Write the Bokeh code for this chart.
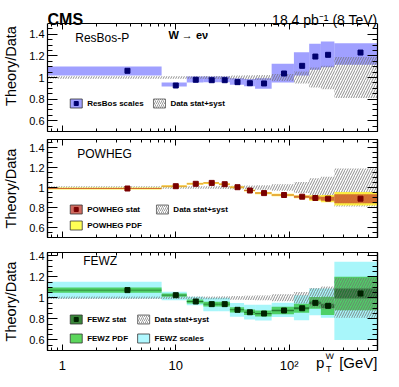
import numpy as np
from bokeh.plotting import figure
from bokeh.layouts import column
from bokeh.models import (Range1d, LinearAxis, LogAxis, FixedTicker, SingleIntervalTicker,
                          CustomJSTickFormatter)
from bokeh.core.properties import value
from bokeh.embed import file_html
from bokeh.resources import INLINE

# ---------------- data ----------------
bin_edges = [0, 7.5, 12.5, 17.5, 24, 30, 40, 50, 70, 110, 150, 190, 250, 600]
data_unc = [0.012, 0.012, 0.012, 0.013, 0.014, 0.018, 0.02, 0.022, 0.033, 0.055, 0.092, 0.108, 0.19]

resbos = [1.062, 0.926, 0.979, 0.975, 0.975, 0.957, 0.947, 0.945, 1.037, 1.108, 1.194, 1.21, 1.231]
resbos_lo = [1.018, 0.917, 0.954, 0.955, 0.955, 0.932, 0.92, 0.895, 0.954, 1.019, 1.071, 1.095, 1.118]
resbos_hi = [1.102, 0.954, 1.009, 1.01, 1.01, 0.994, 0.985, 0.994, 1.127, 1.234, 1.312, 1.333, 1.318]

powheg = [0.99, 1.013, 1.037, 1.046, 1.033, 1.003, 0.97, 0.944, 0.925, 0.908, 0.895, 0.888, 0.888]
powheg_stat = [0.004, 0.004, 0.004, 0.004, 0.004, 0.004, 0.005, 0.005, 0.006, 0.01, 0.015, 0.02, 0.045]
powheg_pdf = [0.01, 0.01, 0.01, 0.01, 0.01, 0.01, 0.01, 0.011, 0.012, 0.015, 0.027, 0.036, 0.067]

fewz = [1.073, 1.025, 0.965, 0.94, 0.94, 0.886, 0.863, 0.851, 0.88, 0.901, 0.952, 0.924, 1.041]
fewz_stat = [0.004, 0.004, 0.004, 0.004, 0.004, 0.005, 0.005, 0.006, 0.007, 0.01, 0.012, 0.02, 0.048]
fewz_pdf = [0.025, 0.015, 0.018, 0.022, 0.022, 0.025, 0.027, 0.028, 0.035, 0.043, 0.055, 0.087, 0.16]
fewz_scale_lo = [0.994, 0.978, 0.93, 0.873, 0.873, 0.82, 0.795, 0.785, 0.819, 0.787, 0.835, 0.81, 0.60]
fewz_scale_hi = [1.152, 1.057, 1.01, 1.0, 1.0, 0.95, 0.935, 0.935, 0.952, 1.025, 1.089, 1.089, 1.343]

x_major_ticks = [1, 10, 100]
x_tick_labels = ["1", "10", "10\u00b2"]
x_minor_ticks = [0.8, 0.9, 2, 3, 4, 5, 6, 7, 8, 9, 20, 30, 40, 50, 60, 70, 80, 90, 200, 300, 400, 500, 600]

# ---------------- layout ----------------
FONT = "Liberation Sans"
X_LO, X_HI = 0.74, 600.0
ROOT_TOP = -1          # where the layout's first row lands in the photographed page
BL, BR = 44, 8
FRAME_W = 333
W = BL + FRAME_W + BR
FRAME_LEFT_PX = 50     # frame's left edge in page pixels
LOGLO, LOGHI = np.log10(X_LO), np.log10(X_HI)

lefts = [max(e, X_LO) for e in bin_edges[:-1]]
rights = bin_edges[1:]
centers = [(a + b) / 2 for a, b in zip(bin_edges[:-1], bin_edges[1:])]
data_lo = [1 - u for u in data_unc]
data_hi = [1 + u for u in data_unc]


def xd(px):
    return 10 ** (LOGLO + (px - FRAME_LEFT_PX) / FRAME_W * (LOGHI - LOGLO))


def yd(py, frame_top, frame_h, ylo, yhi):
    return yhi - (py - frame_top) / frame_h * (yhi - ylo)


def hide_labels(ax):
    ax.major_label_text_font_size = "1px"
    ax.major_label_text_alpha = 0
    ax.major_label_standoff = 0


def text_strip(height):
    """A bare figure (no axes) used for text lying outside the panels' frames."""
    p = figure(x_axis_type="log", x_range=Range1d(X_LO, X_HI), y_range=Range1d(0, height),
               width=W, height=height, min_border=0, min_border_left=BL, min_border_right=BR,
               min_border_top=0, min_border_bottom=0,
               x_axis_location=None, y_axis_location=None,
               output_backend="svg", toolbar_location=None,
               background_fill_color="white", border_fill_color="white")
    p.grid.visible = False
    p.outline_line_color = None
    return p


def strip_text(p, top_px, height, px, py, text, size, style="normal", align="left",
               baseline="alphabetic"):
    y = height - (py - top_px)
    p.text(x=[xd(px)], y=[y], text=[text], text_font=value(FONT), text_font_size=size,
           text_font_style=style, text_align=align, text_baseline=baseline, text_color="black")


def make_panel(ylo, yhi, height, b_top, b_bot, y_view_hi=None):
    """y_view_hi > yhi extends the frame upwards (room for the header texts);
    the box and ticks are then bounded to [ylo, yhi] by the axes."""
    extended = y_view_hi is not None
    p = figure(x_axis_type="log", x_range=Range1d(X_LO, X_HI),
               y_range=Range1d(ylo, y_view_hi if extended else yhi),
               width=W, height=height,
               min_border_left=BL, min_border_right=BR, min_border_top=b_top, min_border_bottom=b_bot,
               output_backend="svg", toolbar_location=None,
               background_fill_color="white", border_fill_color="white")
    p.grid.visible = False
    if extended:
        p.outline_line_color = None
    else:
        p.outline_line_color = "black"
        p.outline_line_width = 1.2

    xt = FixedTicker(ticks=x_major_ticks, minor_ticks=x_minor_ticks)
    top_ax = LogAxis(fixed_location=yhi) if extended else LogAxis()
    p.add_layout(top_ax, "above")
    for ax in [p.below[0], top_ax]:
        ax.ticker = xt
        ax.major_tick_in = 6
        ax.major_tick_out = 0
        ax.minor_tick_in = 3
        ax.minor_tick_out = 0
        ax.axis_line_color = "black"
        ax.axis_line_width = 1.2
        ax.major_tick_line_color = "black"
        ax.minor_tick_line_color = "black"
        hide_labels(ax)

    yt = SingleIntervalTicker(interval=0.2, num_minor_ticks=4)
    right_ax = LinearAxis()
    p.add_layout(right_ax, "right")
    for ax in [p.left[0], right_ax]:
        ax.ticker = yt
        ax.major_tick_in = 10
        ax.major_tick_out = 0
        ax.minor_tick_in = 5
        ax.minor_tick_out = 0
        ax.axis_line_color = "black"
        ax.axis_line_width = 1.2
        ax.major_tick_line_color = "black"
        ax.minor_tick_line_color = "black"
        if extended:
            ax.bounds = (ylo, yhi)
    hide_labels(right_ax)
    l = p.left[0]
    l.formatter = CustomJSTickFormatter(code="return String(Math.round(tick*10)/10);")
    l.major_label_text_font_size = "11px"
    l.major_label_text_font = FONT
    l.major_label_text_color = "black"
    l.major_label_standoff = 3
    l.axis_label = "Theory/Data"
    l.axis_label_text_font = FONT
    l.axis_label_text_font_size = "14.5px"
    l.axis_label_text_font_style = "normal"
    l.axis_label_text_color = "black"
    l.axis_label_standoff = 7
    return p


def data_band(p):
    p.quad(left=lefts, right=rights, bottom=data_lo, top=data_hi, fill_alpha=0,
           hatch_pattern="/", hatch_color="#707070", hatch_scale=5, hatch_weight=0.8,
           line_color=None)


def legend_item(p, px, py, geo, label, fill=None, alpha=1.0, hatch=False, marker=None):
    y = yd(py, *geo)
    x = xd(px + 6)
    if hatch:
        p.rect(x=[x], y=[y], width=12, height=9, width_units="screen", height_units="screen",
               fill_alpha=0, hatch_pattern="/", hatch_color="#707070", hatch_scale=4,
               hatch_weight=0.7, line_color="#555555", line_width=0.8)
    else:
        p.rect(x=[x], y=[y], width=12, height=9, width_units="screen", height_units="screen",
               fill_color=fill, fill_alpha=alpha, line_color="#333333", line_width=0.8)
    if marker:
        p.scatter(x=[x], y=[y], marker="square", size=4, color=marker)
    p.text(x=[xd(px + 17)], y=[y], text=[label], text_font=value(FONT),
           text_font_size="8px", text_font_style="bold", text_baseline="middle",
           text_color="black")


def frame_text(p, px, py, geo, text, size, style="normal", align="left", baseline="middle"):
    p.text(x=[xd(px)], y=[yd(py, *geo)], text=[text], text_font=value(FONT), text_font_size=size,
           text_font_style=style, text_align=align, text_baseline=baseline, text_color="black")


# ---------------- panel 1: ResBos-P (frame extended upwards to hold the header) ----------------
Y1 = (0.5, 1.5)
G1 = (22, 108, Y1[0], Y1[1])
Y1_VIEW_HI = yd(ROOT_TOP, *G1)
p1 = make_panel(Y1[0], Y1[1], (130 - ROOT_TOP) + 4, 0, 4, y_view_hi=Y1_VIEW_HI)
p1.quad(left=lefts, right=rights, bottom=resbos_lo, top=resbos_hi, fill_color="#7777ff",
        fill_alpha=0.7, line_color=None)
data_band(p1)
p1.scatter(centers, resbos, marker="square", size=5, color="#00006e")
frame_text(p1, 50, 18, G1, "CMS", "16px", style="bold", baseline="alphabetic")
frame_text(p1, 383, 18, G1, "18.4 pb\u207b\u00b9 (8 TeV)", "14px", align="right",
           baseline="alphabetic")
frame_text(p1, 78, 36, G1, "ResBos-P", "12px")
frame_text(p1, 172, 33, G1, "W \u2192 e\u03bd", "11px", style="bold")
legend_item(p1, 73, 102, G1, "ResBos scales", fill="#7777ff", alpha=0.7, marker="#00006e")
legend_item(p1, 157, 102, G1, "Data stat+syst", hatch=True)

# ---------------- panel 2: POWHEG ----------------
Y2 = (0.5, 1.48)
G2 = (138, 98, Y2[0], Y2[1])
p2 = make_panel(Y2[0], Y2[1], 4 + 98 + 4, 4, 4)
data_band(p2)
p2.quad(left=lefts, right=rights, bottom=[v - e for v, e in zip(powheg, powheg_pdf)],
        top=[v + e for v, e in zip(powheg, powheg_pdf)], fill_color="#ffee33", fill_alpha=0.9,
        line_color=None)
p2.quad(left=lefts, right=rights, bottom=[v - e for v, e in zip(powheg, powheg_stat)],
        top=[v + e for v, e in zip(powheg, powheg_stat)], fill_color="#c0392b", fill_alpha=0.7,
        line_color=None)
p2.scatter(centers, powheg, marker="square", size=5, color="#7a0000")
frame_text(p2, 80, 152.7, G2, "POWHEG", "12px")
legend_item(p2, 73, 208, G2, "POWHEG stat", fill="#c0392b", alpha=0.75, marker="#7a0000")
legend_item(p2, 160, 208, G2, "Data stat+syst", hatch=True)
legend_item(p2, 73, 224, G2, "POWHEG PDF", fill="#ffff55", alpha=1.0)

# ---------------- panel 3: FEWZ ----------------
Y3 = (0.5, 1.43)
G3 = (251, 98, Y3[0], Y3[1])
p3 = make_panel(Y3[0], Y3[1], 11 + 98 + 3, 11, 3)
p3.quad(left=lefts, right=rights, bottom=fewz_scale_lo, top=fewz_scale_hi, fill_color="#a8f6fa",
        fill_alpha=1.0, line_color=None)
p3.quad(left=lefts, right=rights, bottom=[v - e for v, e in zip(fewz, fewz_pdf)],
        top=[v + e for v, e in zip(fewz, fewz_pdf)], fill_color="#44cc55", fill_alpha=0.9,
        line_color=None)
p3.quad(left=lefts, right=rights, bottom=[v - e for v, e in zip(fewz, fewz_stat)],
        top=[v + e for v, e in zip(fewz, fewz_stat)], fill_color="#1f6e2a", fill_alpha=0.9,
        line_color=None)
data_band(p3)
p3.scatter(centers, fewz, marker="square", size=5, color="#002200")
frame_text(p3, 86, 259.3, G3, "FEWZ", "12px")
legend_item(p3, 73, 318, G3, "FEWZ stat", fill="#3a873a", alpha=1.0, marker="#002200")
legend_item(p3, 141, 318, G3, "Data stat+syst", hatch=True)
legend_item(p3, 73, 337, G3, "FEWZ PDF", fill="#5cd65c", alpha=1.0)
legend_item(p3, 141, 337, G3, "FEWZ scales", fill="#b0f8ff", alpha=1.0)

# ---------------- footer: x tick labels and x title ----------------
FOOT_TOP, FOOT_H = 352, 26
foot = text_strip(FOOT_H)
foot.text(x=x_major_ticks, y=[FOOT_H - (363.5 - FOOT_TOP)] * len(x_major_ticks),
          text=x_tick_labels, text_font=value(FONT), text_font_size="13px",
          text_align="center", text_baseline="middle", text_color="black")
strip_text(foot, FOOT_TOP, FOOT_H, 321, 361, "p", "15px")
strip_text(foot, FOOT_TOP, FOOT_H, 330.5, 354, "W", "9px")
strip_text(foot, FOOT_TOP, FOOT_H, 331, 367, "T", "9px")
strip_text(foot, FOOT_TOP, FOOT_H, 383, 361, "[GeV]", "15px", align="right")

layout = column(p1, p2, p3, foot)
open("out.html", "w").write(file_html(layout, INLINE))
